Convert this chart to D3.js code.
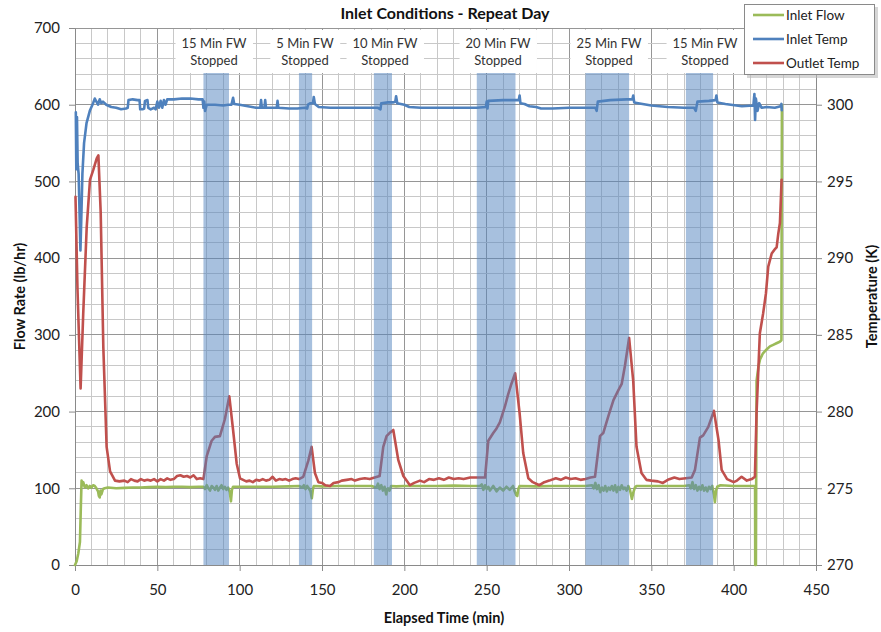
<!DOCTYPE html>
<html>
<head>
<meta charset="utf-8">
<script src="https://cdn.jsdelivr.net/npm/d3@7/dist/d3.min.js"></script>
<style>
  html, body { margin: 0; padding: 0; background: #fff; }
  svg { display: block; font-family: Lato, "Open Sans", "DejaVu Sans", sans-serif; }
</style>
</head>
<body>
<svg id="chart" width="881" height="632"></svg>
<script>
// ---------------- DATA ----------------
const chartTitle = "Inlet Conditions - Repeat Day";
const xTicks = [0, 50, 100, 150, 200, 250, 300, 350, 400, 450];
const leftTicks = [0, 100, 200, 300, 400, 500, 600, 700];
const rightTicks = [270, 275, 280, 285, 290, 295, 300];
const seriesNames = ["Inlet Flow", "Inlet Temp", "Outlet Temp"];

// FW-stopped periods (minutes)
const bandStart = [78, 136, 181.5, 244, 310, 371];
const bandEnd   = [93.5, 144, 192.5, 267.5, 336.5, 387.5];
const bandLabel1 = ["15 Min FW", "5 Min FW", "10 Min FW", "20 Min FW", "25 Min FW", "15 Min FW"];
const bandLabel2 = ["Stopped", "Stopped", "Stopped", "Stopped", "Stopped", "Stopped"];
const bandLabelX = [214, 305, 385, 498, 609, 705];

// Inlet Flow [min, lb/hr]
const inletFlow = [[0,0],[1,5],[2,15],[3,30],[3.6,80],[4,110],[4.5,104],[5,108],[6,101],[7,104],[8,100],[9,103],[10,101],[11,104],[12,103],[13,100],[14,96],[14.5,90],[15,88],[15.5,97],[16,92],[17,99],[18,100],[20,101],[25,100],[30,100.5],[35,101],[40,101],[45,101.5],[50,102],[55,101.5],[60,102],[65,102],[70,101.5],[75,102],[78,102],[79,99],[80,104],[81,100],[82,97],[83,103],[84,101],[85,98],[86,103],[87,97],[88,101],[89,104],[90,99],[91,102],[92,98],[93,101],[94,95],[94.7,83],[95.3,98],[96,102],[100,102],[110,102],[120,102],[130,102.5],[136,103],[138,101],[139,104],[140,99],[141,103],[142,100],[143,96],[143.8,87],[144.5,99],[145,103],[150,102.5],[160,103],[170,103],[180,103],[183,101],[184,106],[185,99],[186,104],[187,97],[188,102],[189,92],[190,100],[191,97],[192,103],[195,102.5],[200,103],[210,103],[220,103],[230,103.5],[240,103],[246,103],[247,105],[248,98],[249,104],[250,99],[251,102],[252,97],[254,103],[256,96],[258,101],[260,97],[262,102],[264,98],[266,103],[267,96],[268,91],[268.6,90],[269.2,99],[270,103],[280,102.5],[290,103],[300,103],[310,103],[314,104],[315,100],[316,107],[317,99],[318,104],[319,95],[320,101],[321,97],[322,103],[323,96],[324,101],[325,98],[326,103],[327,97],[328,104],[329,95],[330,102],[331,98],[332,104],[333,99],[334,101],[335,97],[336,103],[337,98],[338.2,86],[339,94],[340,101],[341,103],[350,103],[360,103],[370,103],[373,104],[374,100],[375,108],[376,99],[377,104],[378,97],[379,102],[380,98],[381,104],[382,97],[383,101],[384,96],[385,102],[386,99],[387,103],[388,92],[388.6,82],[389.3,97],[390,102],[392,104],[400,103],[410,103],[413,103],[413.1,0],[413.5,0],[413.9,240],[415,258],[416,268],[417.8,276],[420,281],[422,285],[424,287],[426,289],[428,291],[429,293],[429.3,600]];

// Inlet Temp [min, K]
const inletTemp = [[0.5,299.5],[0.8,295.8],[1.2,299.2],[1.6,296.2],[2.2,295.5],[3.3,290.5],[3.8,292.5],[4.5,295.5],[5.5,297.5],[7,298.8],[9,299.6],[11,300.1],[12,300.4],[13,300.2],[14,300.0],[15,300.35],[16,300.1],[17,300.2],[19,300.0],[22,299.85],[25,299.8],[28,299.7],[31,299.75],[32,299.8],[32.5,300.3],[35,300.35],[38,300.3],[39.2,300.3],[39.6,299.7],[41,299.7],[42,299.75],[42.5,300.25],[44,300.3],[44.5,299.8],[46,299.7],[48,299.8],[49,299.7],[50,300.2],[51,299.8],[52,300.25],[53,299.8],[54,300.3],[55,300.0],[56,300.35],[60,300.35],[65,300.4],[70,300.4],[75,300.35],[77.5,300.35],[78,299.8],[78.5,300.2],[79,299.6],[80,300.0],[85,300.0],[90,299.95],[93,300.0],[95,300.0],[96,300.45],[96.7,300.05],[100,300.0],[105,299.9],[110,299.8],[112.5,299.8],[113,300.3],[113.5,299.8],[115,299.8],[115.5,300.3],[116,299.8],[120,299.8],[122.5,299.8],[123,300.25],[123.5,299.8],[130,299.75],[135,299.75],[140,299.8],[141,299.75],[141.5,300.0],[143,300.1],[144.5,300.1],[145,300.5],[145.7,300.05],[148,299.85],[155,299.8],[165,299.8],[175,299.8],[184,299.8],[185.5,299.7],[186,300.1],[190,300.15],[193,300.15],[194.5,300.2],[195,300.55],[195.7,300.1],[200,300.0],[203,299.85],[210,299.8],[220,299.8],[230,299.8],[240,299.8],[244,299.8],[249.5,299.85],[250,300.2],[250.5,299.75],[251,300.25],[260,300.3],[268,300.3],[269.5,300.3],[270,300.6],[270.5,300.1],[273,300.05],[276,299.9],[280,299.85],[283,299.75],[290,299.75],[300,299.8],[310,299.8],[316,299.8],[316.8,299.6],[317.5,300.2],[325,300.3],[335,300.35],[338.5,300.35],[339,300.6],[339.6,300.15],[342,300.1],[350,299.95],[360,299.85],[370,299.8],[376,299.8],[377,299.6],[378,300.2],[385,300.25],[389,300.3],[389.5,300.6],[390.1,300.15],[395,300.05],[405,299.9],[412,299.95],[412.6,300.7],[413,299.0],[413.5,300.4],[414.5,299.6],[415.5,300.1],[417,299.8],[420,299.85],[425,299.8],[428.5,299.9],[429,300.05],[429.2,299.65]];

// Outlet Temp [min, K]
const outletTemp = [[0.3,294.0],[1.5,288],[3.4,281.5],[5,286.4],[7.1,292.0],[9.1,295.1],[11.1,295.75],[13.2,296.5],[14.2,296.7],[15.6,293],[17.2,284.2],[19.2,277.7],[21.3,276.1],[24.3,275.5],[27,275.45],[30,275.5],[32,275.4],[34,275.6],[36,275.5],[38,275.45],[40,275.6],[42,275.5],[44,275.55],[46,275.5],[48,275.6],[50,275.45],[52,275.6],[54,275.5],[56,275.65],[58,275.55],[60,275.6],[62,275.8],[64,275.85],[66,275.75],[68,275.8],[70,275.7],[72,275.85],[74,275.6],[76,275.65],[78,275.6],[80,277.1],[83,278.1],[85,278.35],[88,278.4],[91,279.5],[93.7,281.0],[96,278.8],[98.2,276.6],[100.2,275.65],[104,275.45],[106,275.5],[108,275.4],[110,275.55],[112,275.5],[114,275.6],[116,275.5],[118,275.55],[120,275.75],[122,275.5],[124,275.6],[126,275.55],[128,275.6],[130,275.5],[132,275.6],[134,275.65],[136,275.6],[138.6,275.75],[141.7,276.8],[143.7,277.7],[145.7,276.0],[147.8,275.4],[150,275.35],[152,275.2],[154.9,275.15],[157,275.35],[160,275.4],[162,275.5],[165,275.55],[168,275.6],[170,275.5],[173,275.6],[176,275.65],[179,275.6],[182,275.7],[185,275.8],[187.2,277.7],[189.2,278.4],[191,278.6],[193.3,278.8],[196.3,276.85],[199.4,275.8],[203.4,275.2],[206,275.35],[209.5,275.5],[212,275.4],[215,275.6],[218,275.55],[221,275.65],[224,275.55],[227,275.7],[230,275.6],[233,275.65],[236,275.6],[240,275.7],[244,275.7],[249,275.7],[251,278.1],[254,278.6],[256,278.9],[258,279.3],[261,280.3],[263,281.1],[265,281.8],[267.3,282.5],[270,279.9],[272.2,277.3],[275.3,275.65],[278,275.4],[282,275.2],[285,275.4],[288,275.5],[292,275.65],[295,275.55],[298,275.7],[301,275.6],[304,275.65],[307,275.55],[310,275.6],[313,275.7],[315.8,275.75],[318.8,278.4],[320.8,278.6],[323.9,279.7],[327,280.75],[330,281.4],[332,281.8],[334,283.0],[336.5,284.8],[339,282],[341,277.7],[344,276.0],[347,275.55],[350,275.5],[354,275.45],[357,275.35],[360,275.55],[364,275.7],[367,275.6],[371,275.65],[374.5,275.7],[376.5,276.2],[379.5,278.3],[381.5,278.45],[384.6,279.0],[388,280.05],[390.8,278.15],[392.7,276.2],[396,275.6],[400,275.4],[402,275.5],[404.8,275.75],[408,275.5],[411,275.6],[412.9,275.75],[413.9,279.9],[415.9,285.1],[417.9,286.4],[419.6,287.7],[421,289.45],[423.1,290.3],[425.1,290.6],[426.1,290.7],[427.1,291.6],[428.1,292.3],[429.1,295.1]];

// ---------------- CHART ----------------
const svg = d3.select("#chart");
const colors = { flow: "#9bbb59", inT: "#4f81bd", outT: "#c0504d" };
const L = 75, R = 816, T = 28, B = 565;
const boxTop = 30, boxBottom = 73;

const x = d3.scaleLinear().domain([0, 450]).range([L, R]);
const yL = d3.scaleLinear().domain([0, 700]).range([B, T]);
const yR = d3.scaleLinear().domain([270, 305]).range([B, T]);

// grid
const grid = svg.append("g");
grid.selectAll("line.vminor").data(d3.range(0, 451, 10)).enter().append("line")
  .attr("x1", d => x(d)).attr("x2", d => x(d)).attr("y1", T).attr("y2", B)
  .attr("stroke", d => d % 50 === 0 ? "#969696" : "#c8c8c8").attr("stroke-width", 1)
  .attr("shape-rendering", "crispEdges");
grid.selectAll("line.hminor").data(d3.range(0, 701, 20)).enter().append("line")
  .attr("x1", L).attr("x2", R).attr("y1", d => yL(d)).attr("y2", d => yL(d))
  .attr("stroke", d => d % 100 === 0 ? "#969696" : "#c8c8c8").attr("stroke-width", 1)
  .attr("shape-rendering", "crispEdges");

// axes
const tickFont = g => g.selectAll("text").attr("font-size", 15).attr("fill", "#222")
  .attr("font-family", "Lato, 'Open Sans', sans-serif");
const axStyle = g => { g.selectAll("line").attr("stroke", "#8a8a8a"); g.select(".domain").attr("stroke", "#8a8a8a"); };

svg.append("g").attr("transform", `translate(${L},0)`)
  .call(d3.axisLeft(yL).tickValues(leftTicks).tickSize(6).tickSizeOuter(0).tickPadding(9))
  .call(tickFont).call(axStyle);
svg.append("g").attr("transform", `translate(${R},0)`)
  .call(d3.axisRight(yR).tickValues(rightTicks).tickSize(6).tickSizeOuter(0).tickPadding(5))
  .call(tickFont).call(axStyle);
svg.append("g").attr("transform", `translate(0,${B})`)
  .call(d3.axisBottom(x).tickValues(xTicks).tickSize(6).tickSizeOuter(0).tickPadding(13))
  .call(tickFont).call(axStyle);

// lines
const lineL = d3.line().x(d => x(d[0])).y(d => yL(d[1]));
const lineR = d3.line().x(d => x(d[0])).y(d => yR(d[1]));
const lines = svg.append("g").attr("fill", "none").attr("stroke-width", 2.6)
  .attr("stroke-linejoin", "round").attr("stroke-linecap", "round");
lines.append("path").datum(inletFlow).attr("d", lineL).attr("stroke", colors.flow);
lines.append("path").datum(inletTemp).attr("d", lineR).attr("stroke", colors.inT);
lines.append("path").datum(outletTemp).attr("d", lineR).attr("stroke", colors.outT);

// shaded bands (semi-transparent, on top of lines)
svg.append("g").selectAll("rect").data(bandStart).enter().append("rect")
  .attr("x", (d, i) => x(d)).attr("width", (d, i) => x(bandEnd[i]) - x(d))
  .attr("y", boxBottom).attr("height", yL(0) - boxBottom)
  .attr("fill", "#4f81bd").attr("fill-opacity", 0.5);

// annotation boxes
const ann = svg.append("g");
bandLabel1.forEach((t, i) => {
  const g = ann.append("g");
  const bg = g.append("rect").attr("fill", "#fff");
  const t1 = g.append("text").attr("x", bandLabelX[i]).attr("y", 48).attr("text-anchor", "middle")
    .attr("font-size", 13).attr("fill", "#333").text(t);
  g.append("text").attr("x", bandLabelX[i]).attr("y", 65).attr("text-anchor", "middle")
    .attr("font-size", 13).attr("fill", "#333").text(bandLabel2[i]);
  const bb = t1.node().getBBox();
  bg.attr("x", bb.x - 6).attr("width", bb.width + 12).attr("y", boxTop).attr("height", boxBottom - boxTop);
});

// title
svg.append("text").attr("x", 445).attr("y", 19).attr("text-anchor", "middle")
  .attr("font-size", 16).attr("font-weight", "bold").attr("fill", "#111").text(chartTitle);

// axis titles
svg.append("text").attr("transform", `translate(25,${(T + B) / 2}) rotate(-90)`)
  .attr("text-anchor", "middle").attr("font-size", 14.5).attr("font-weight", "bold").attr("fill", "#111")
  .text("Flow Rate (lb/hr)");
svg.append("text").attr("transform", `translate(877,${(T + B) / 2}) rotate(-90)`)
  .attr("text-anchor", "middle").attr("font-size", 14.5).attr("font-weight", "bold").attr("fill", "#111")
  .text("Temperature (K)");
svg.append("text").attr("x", 444).attr("y", 623).attr("text-anchor", "middle")
  .attr("font-size", 14.5).attr("font-weight", "bold").attr("fill", "#111")
  .text("Elapsed Time (min)");

// legend
const lg = svg.append("g");
lg.append("rect").attr("x", 747).attr("y", 7).attr("width", 131).attr("height", 71)
  .attr("fill", "#bbb").attr("opacity", 0.6);
lg.append("rect").attr("x", 744.5).attr("y", 4.5).attr("width", 130).attr("height", 70)
  .attr("fill", "#fff").attr("stroke", "#8a8a8a");
const legColors = [colors.flow, colors.inT, colors.outT];
seriesNames.forEach((n, i) => {
  const yy = 15 + i * 24;
  lg.append("line").attr("x1", 753).attr("x2", 784).attr("y1", yy).attr("y2", yy)
    .attr("stroke", legColors[i]).attr("stroke-width", 2.6);
  lg.append("text").attr("x", 786).attr("y", yy + 5).attr("font-size", 13.5).attr("fill", "#222").text(n);
});
</script>
</body>
</html>
